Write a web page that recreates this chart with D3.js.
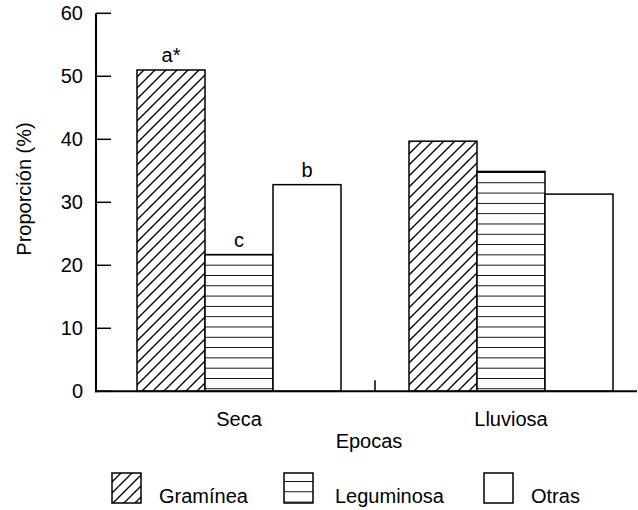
<!DOCTYPE html>
<html>
<head>
<meta charset="utf-8">
<script src="https://cdn.jsdelivr.net/npm/d3@7"></script>
<style>
  body { margin: 0; background: #fff; }
  svg text { font-family: "Liberation Sans", Arial, sans-serif; fill: #000; }
</style>
</head>
<body>
<svg id="chart" width="638" height="510"></svg>
<script>
// Data
const epocas = ["Seca", "Lluviosa"];
const grupos = ["Gramínea", "Leguminosa", "Otras"];
const seca = [51, 21.7, 32.8];
const lluviosa = [39.7, 34.9, 31.3];
const letrasSeca = ["a*", "c", "b"];
const yTicks = [0, 10, 20, 30, 40, 50, 60];

const svg = d3.select("#chart");
const fontSize = 20;

const x0 = d3.scaleBand().domain(epocas).range([103, 647])
  .paddingInner(0.25).paddingOuter(0.125);
const x1 = d3.scaleBand().domain(grupos).range([0, x0.bandwidth()]);
const y = d3.scaleLinear().domain([0, 60]).range([391.3, 13.3]);

// patterns
const defs = svg.append("defs");
const diag = defs.append("pattern")
  .attr("id", "diag")
  .attr("patternUnits", "userSpaceOnUse")
  .attr("width", 11).attr("height", 11);
diag.append("rect").attr("width", 11).attr("height", 11).attr("fill", "#fff");
diag.append("path")
  .attr("d", "M-1,12 L12,-1 M-2,2 L2,-2 M9,13 L13,9")
  .attr("stroke", "#000").attr("stroke-width", 1.4);

const horiz = defs.append("pattern")
  .attr("id", "horiz")
  .attr("patternUnits", "userSpaceOnUse")
  .attr("width", 10).attr("height", 10.3)
  .attr("patternTransform", "translate(0," + (y(0) - 3) + ")");
horiz.append("rect").attr("width", 10).attr("height", 10.3).attr("fill", "#fff");
horiz.append("line")
  .attr("x1", 0).attr("x2", 10).attr("y1", 0).attr("y2", 0)
  .attr("stroke", "#000").attr("stroke-width", 1.8);

const fills = { "Gramínea": "url(#diag)", "Leguminosa": "url(#horiz)", "Otras": "#fff" };

// bars
const rows = epocas.map((e, i) => ({
  epoca: e,
  values: grupos.map((g, j) => ({ grupo: g, value: i === 0 ? seca[j] : lluviosa[j], letra: i === 0 ? letrasSeca[j] : "" }))
}));

const groups = svg.selectAll("g.epoca")
  .data(rows)
  .join("g")
  .attr("class", "epoca")
  .attr("transform", d => `translate(${x0(d.epoca)},0)`);

groups.selectAll("rect")
  .data(d => d.values)
  .join("rect")
  .attr("x", d => x1(d.grupo))
  .attr("y", d => y(d.value))
  .attr("width", x1.bandwidth())
  .attr("height", d => y(0) - y(d.value))
  .attr("fill", d => fills[d.grupo])
  .attr("stroke", "#000")
  .attr("stroke-width", 1.5);

groups.selectAll("text.letra")
  .data(d => d.values.filter(v => v.letra))
  .join("text")
  .attr("class", "letra")
  .attr("x", d => x1(d.grupo) + x1.bandwidth() / 2)
  .attr("y", d => y(d.value) - 8)
  .attr("text-anchor", "middle")
  .attr("font-size", fontSize)
  .text(d => d.letra);

// y axis
const yAxis = svg.append("g");
yAxis.append("line")
  .attr("x1", 96).attr("x2", 96)
  .attr("y1", y(60)).attr("y2", y(0) + 1)
  .attr("stroke", "#000").attr("stroke-width", 2);
yAxis.selectAll("line.tick")
  .data(yTicks)
  .join("line")
  .attr("class", "tick")
  .attr("x1", 96).attr("x2", 111)
  .attr("y1", d => y(d)).attr("y2", d => y(d))
  .attr("stroke", "#000").attr("stroke-width", 1.5);
yAxis.selectAll("text")
  .data(yTicks)
  .join("text")
  .attr("x", 83)
  .attr("y", d => y(d))
  .attr("dy", "0.35em")
  .attr("text-anchor", "end")
  .attr("font-size", fontSize)
  .text(d => d);

// x axis
svg.append("line")
  .attr("x1", 95).attr("x2", 637)
  .attr("y1", y(0)).attr("y2", y(0))
  .attr("stroke", "#000").attr("stroke-width", 2);
const midX = x0("Lluviosa") - x0.step() * x0.paddingInner() / 2;
svg.append("line")
  .attr("x1", midX).attr("x2", midX)
  .attr("y1", y(0)).attr("y2", y(0) - 11)
  .attr("stroke", "#000").attr("stroke-width", 1.5);
svg.selectAll("text.cat")
  .data(epocas)
  .join("text")
  .attr("class", "cat")
  .attr("x", d => x0(d) + x0.bandwidth() / 2)
  .attr("y", 426)
  .attr("text-anchor", "middle")
  .attr("font-size", fontSize)
  .text(d => d);

svg.append("text")
  .attr("x", 369).attr("y", 448)
  .attr("text-anchor", "middle")
  .attr("font-size", fontSize)
  .text("Epocas");

svg.append("text")
  .attr("transform", "translate(31,189) rotate(-90)")
  .attr("text-anchor", "middle")
  .attr("font-size", fontSize)
  .text("Proporción (%)");

// legend
const legendBoxX = [112, 284, 484];
const legendTextX = [159, 335, 531];
const legend = svg.append("g");
legend.selectAll("rect")
  .data(grupos)
  .join("rect")
  .attr("x", (d, i) => legendBoxX[i])
  .attr("y", 473)
  .attr("width", 29).attr("height", 30)
  .attr("fill", d => fills[d])
  .attr("stroke", "#000").attr("stroke-width", 1.5);
legend.selectAll("text")
  .data(grupos)
  .join("text")
  .attr("x", (d, i) => legendTextX[i])
  .attr("y", 503)
  .attr("font-size", fontSize)
  .text(d => d);
</script>
</body>
</html>
